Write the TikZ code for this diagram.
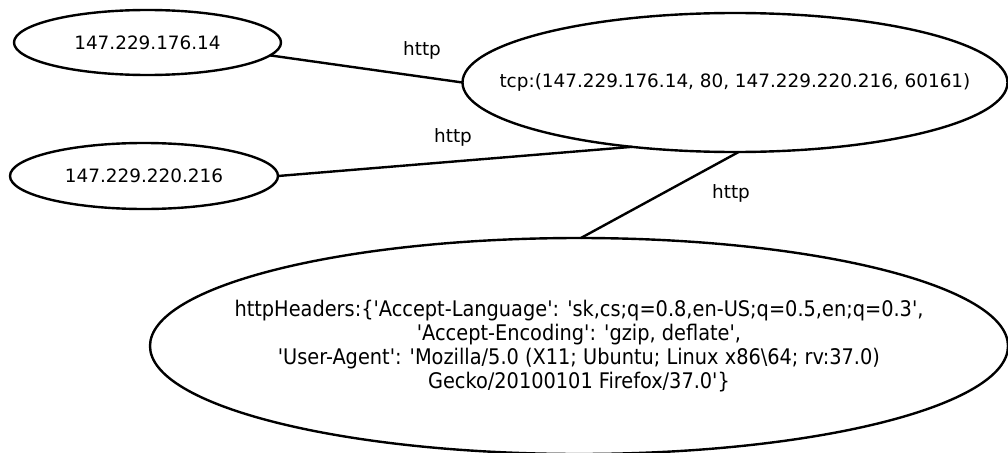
\documentclass[tikz,border=0pt]{standalone}
\usepackage{fontspec}
\newfontfamily\dv{DejaVu Sans}
\newfontfamily\dvc{DejaVu Sans Condensed}
\usetikzlibrary{shapes.geometric}
\begin{document}
\begin{tikzpicture}[x=1pt,y=-1pt,
  ell/.style={draw,line width=2.4pt,ellipse,inner sep=0pt,outer sep=0pt},
  txt/.style={font=\dv\fontsize{18.4}{24}\selectfont,inner sep=0pt,align=center},
  bigtxt/.style={font=\dvc\fontsize{21.5}{24}\selectfont,inner sep=0pt,align=center},
  edge/.style={line width=2.4pt},
  lbl/.style={font=\dv\fontsize{18.4}{24}\selectfont,inner sep=0pt}]
\useasboundingbox (0,0) rectangle (1008,452);
\node[ell,minimum width=267pt,minimum height=65pt] (a) at (147.5,42.5) {};
\node[txt] (at) at (a) {147.229.176.14};
\node[ell,minimum width=268pt,minimum height=66pt] (b) at (144,176) {};
\node[txt] (bt) at (b) {147.229.220.216};
\node[ell,minimum width=545pt,minimum height=139pt] (t) at (735,82.5) {};
\node[txt] (tt) at (t) {tcp:(147.229.176.14, 80, 147.229.220.216, 60161)};
\node[ell,minimum width=858pt,minimum height=216pt] (h) at (579,346) {};
\node[bigtxt] (ht) at (h) {httpHeaders:\{'Accept-Language': 'sk,cs;q=0.8,en-US;q=0.5,en;q=0.3',\\'Accept-Encoding': 'gzip, deflate',\\'User-Agent': 'Mozilla/5.0 (X11; Ubuntu; Linux x86\textbackslash 64; rv:37.0)\\Gecko/20100101 Firefox/37.0'\}};
\draw[edge] (a.-6) -- (t.west);
\draw[edge] (b.east) -- (t.-148);
\draw[edge] (t.-87.5) -- (h.89);
\node[lbl] (l1) at (422,50) {http};
\node[lbl] (l2) at (453,137) {http};
\node[lbl] (l3) at (731,193) {http};
\end{tikzpicture}
\end{document}
